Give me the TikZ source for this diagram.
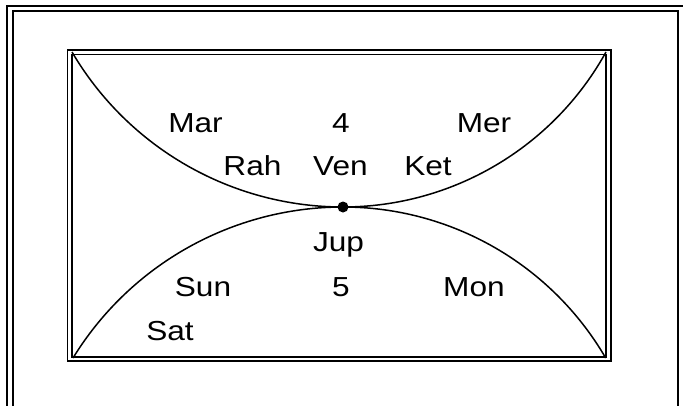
\documentclass[tikz,border=0pt]{standalone}
\usepackage{fontspec}
\setmainfont{Liberation Sans}
\newcommand\sx[1]{\scalebox{1.15}[1]{#1}}
\tikzset{
  lbl/.style={anchor=base, inner sep=0pt, font=\fontsize{27.5}{32}\selectfont},
  frameline/.style={line width=1.7pt},
  arcline/.style={line width=1.5pt},
  hub/.style={circle, fill=black, inner sep=0pt, minimum size=11pt}
}
\begin{document}
\begin{tikzpicture}[x=1pt,y=-1pt]
\useasboundingbox (0,0) rectangle (683,405);
\clip (0,0) rectangle (683,405);
% outer page frame (extends past the picture)
\draw[frameline] (6.7,420) -- (6.7,5.8) -- (700,5.8);
\draw[frameline] (12.7,420) -- (12.7,10.7) -- (677.7,10.7) -- (677.7,420);
% chart double frame
\draw[frameline] (67.5,50.3) rectangle (611,361);
\draw[frameline] (71.8,54.6) rectangle (605.8,357);
% corner and hub coordinates
\coordinate (tl) at (72,52);
\coordinate (tr) at (606,52);
\coordinate (bl) at (73,358);
\coordinate (br) at (605.7,358);
\node[hub] (c) at (343,207) {};
% arcs
\draw[arcline] (tl) .. controls (128.5,148) and (231.6,207) .. (c.center)
  .. controls (452.3,207) and (553.1,147.6) .. (tr);
\draw[arcline] (bl) .. controls (130.6,264.2) and (232.9,207) .. (c.center)
  .. controls (451.2,207) and (551.3,264.5) .. (br);
% labels
\node[lbl] (mar) at (195.5,132.3) {\sx{Mar}};
\node[lbl] (n4) at (341,132.3) {\sx{4}};
\node[lbl] (mer) at (484,132.3) {\sx{Mer}};
\node[lbl] (rah) at (252.5,175) {\sx{Rah}};
\node[lbl] (ven) at (340.5,175) {\sx{Ven}};
\node[lbl] (ket) at (428,175) {\sx{Ket}};
\node[lbl] (jup) at (338.5,251.7) {\sx{Jup}};
\node[lbl] (sun) at (203,296.7) {\sx{Sun}};
\node[lbl] (n5) at (341,296.7) {\sx{5}};
\node[lbl] (mon) at (474,296.7) {\sx{Mon}};
\node[lbl] (sat) at (170,340) {\sx{Sat}};
\end{tikzpicture}
\end{document}
